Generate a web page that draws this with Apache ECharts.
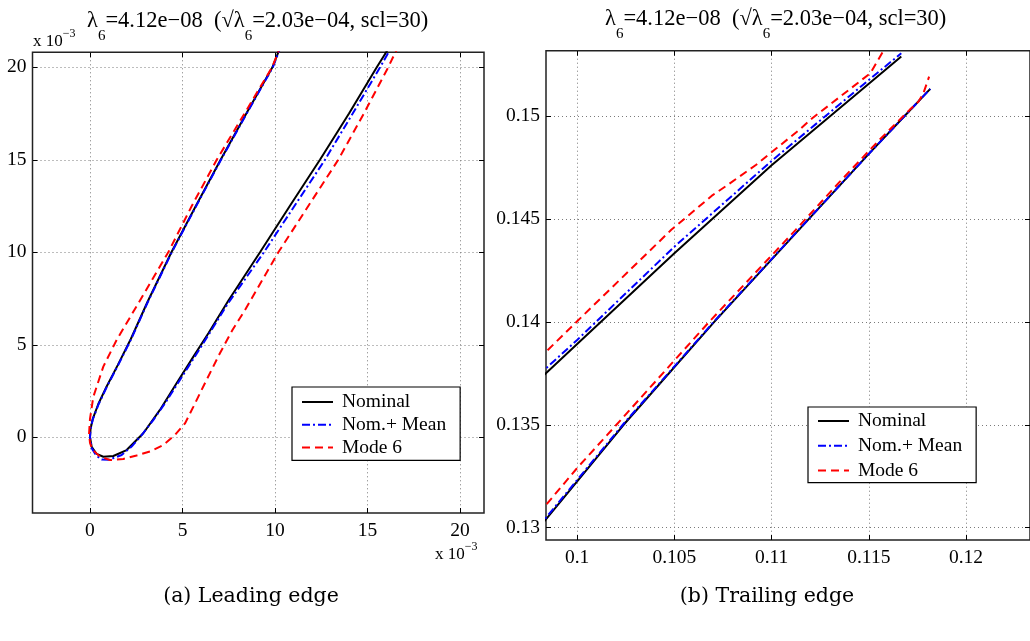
<!DOCTYPE html>
<html>
<head>
<meta charset="utf-8">
<script src="https://cdn.jsdelivr.net/npm/echarts@6/dist/echarts.min.js"></script>
<style>html,body{margin:0;padding:0;background:#fff;}#c{width:1030px;height:641px;}</style>
</head>
<body>
<div id="c"></div>
<script>
// ---------- data (leading edge, units of 1e-3) ----------
const seriesNames = ['Nominal', 'Nom.+ Mean', 'Mode 6'];
const leXTicks = [0, 5, 10, 15, 20];
const leYTicks = [0, 5, 10, 15, 20];
const teXTicks = [0.1, 0.105, 0.11, 0.115, 0.12];
const teYTicks = [0.13, 0.135, 0.14, 0.145, 0.15];

const leNominal = [[10.33,21.2],[9.86,20],[8.45,17.5],[7.06,15],[5.72,12.5],[4.4,10],[3.1,7.3],[2.2,5.3],[1.5,3.9],[0.9,2.75],[0.45,1.8],[0.15,1.0],[0.03,0.45],[0,0],[0.09,-0.51],[0.36,-0.9],[0.72,-1.05],[1.26,-1.01],[1.98,-0.69],[2.88,0.22],[3.78,1.48],[4.68,2.92],[5.59,4.36],[6.4,5.62],[7.5,7.42],[9.19,10],[10.8,12.5],[12.43,15],[14.0,17.5],[15.5,20],[16.0,20.8],[16.25,21.2]];
const leMean = [[10.35,21.2],[9.88,20],[8.47,17.5],[7.08,15],[5.74,12.5],[4.42,10],[3.12,7.3],[2.22,5.3],[1.52,3.9],[0.92,2.75],[0.47,1.8],[0.16,1.0],[0.03,0.45],[0,0],[0.1,-0.6],[0.35,-1.0],[0.63,-1.2],[1.0,-1.22],[1.71,-0.96],[2.25,-0.5],[2.79,0.12],[3.42,0.93],[4.05,1.83],[4.68,2.82],[5.32,3.82],[5.95,4.81],[6.6,5.85],[7.4,7.15],[9.4,10],[11.05,12.5],[12.7,15],[14.2,17.5],[15.68,20],[16.13,20.8],[16.38,21.2]];
const leMode = [[10.33,21.2],[9.84,20],[8.35,17.5],[6.85,15],[5.5,12.5],[4.23,10],[2.61,7.24],[1.44,5.26],[0.72,3.82],[0.18,2.19],[0.0,1.0],[-0.05,0.2],[0.0,-0.3],[0.12,-0.65],[0.54,-1.05],[1.08,-1.23],[1.8,-1.17],[2.52,-0.98],[3.3,-0.75],[3.96,-0.42],[4.59,0.12],[5.14,0.76],[5.59,1.66],[6.3,3.1],[7.0,4.5],[7.7,5.8],[8.38,6.88],[10.18,10],[11.8,12.5],[13.42,15],[14.8,17.5],[16.12,20],[16.5,20.8],[16.75,21.2]];

// ---------- data (trailing edge) ----------
const teNominalUpper = [[0.0980,0.13715],[0.1,0.13892],[0.105,0.14333],[0.11,0.14761],[0.115,0.15157],[0.11667,0.15289]];
const teNominalLower = [[0.0980,0.12995],[0.1,0.13225],[0.10239,0.135],[0.10705,0.14],[0.1114,0.14447],[0.115,0.14816],[0.11684,0.15],[0.11816,0.15132]];
const teMeanUpper = [[0.0980,0.1374],[0.1,0.13912],[0.105,0.14365],[0.11,0.14782],[0.115,0.15175],[0.11667,0.15305]];
const teMeanLower = [[0.0980,0.13003],[0.1,0.13232],[0.10239,0.13505],[0.10705,0.14003],[0.1114,0.14448],[0.115,0.14816],[0.11684,0.15],[0.11816,0.15132]];
const teModeUpper = [[0.0980,0.13818],[0.1,0.14003],[0.10484,0.14447],[0.10697,0.14616],[0.10774,0.14665],[0.10919,0.14762],[0.11141,0.14932],[0.11209,0.14989],[0.11508,0.15208],[0.11576,0.15318],[0.1159,0.1535]];
const teModeLower = [[0.0980,0.13066],[0.1,0.1329],[0.10202,0.135],[0.10679,0.14],[0.11124,0.14447],[0.1135,0.1468],[0.1155,0.1488],[0.1171,0.1503],[0.11756,0.1507],[0.11781,0.15111],[0.1181,0.15191]];

// ---------- styling ----------
const FONT = 'Liberation Serif';
const STY = {
  'Nominal':    {color:'#000000', width:2, type:'solid'},
  'Nom.+ Mean': {color:'#0000ff', width:2, type:[8,3,2,3]},
  'Mode 6':     {color:'#ff0000', width:2, type:[8,5]}
};

function axis(gridIndex, position, min, max, ticks, labels, isX) {
  return {
    type:'value', gridIndex, position, min, max, scale:true,
    axisLine:{show:false, onZero:false},
    axisTick:{show:true, inside:true, length:5, customValues:ticks, lineStyle:{color:'#000', width:1}},
    axisLabel:{show:labels, customValues:ticks, color:'#000', fontFamily:FONT, fontSize:19.5, margin: isX ? 8 : 6},
    splitLine:{show:labels, lineStyle:{color:'#7a7a7a', width:1, type:[1,3]}}
  };
}

function line(name, data, xi, yi) {
  const s = STY[name];
  return {
    name, type:'line', data, xAxisIndex:xi, yAxisIndex:yi, symbol:'none', symbolSize:0, clip:true,
    lineStyle:{color:s.color, width:s.width, type:s.type}, itemStyle:{color:s.color},
    emphasis:{disabled:true}
  };
}

const legendBase = {
  orient:'vertical', data:seriesNames, itemWidth:31, itemHeight:12,
  borderColor:'#000', borderWidth:1.2, backgroundColor:'#fff', borderRadius:0,
  itemStyle:{opacity:0},
  textStyle:{color:'#000', fontFamily:FONT, fontSize:19.5, lineHeight:19, padding:[0,0,0,4]}
};

const subTitle = {
  a:{fontSize:22.5, fontFamily:FONT, fill:'#000'},
  s:{fontSize:15, fontFamily:FONT, fill:'#000', padding:[30,0,0,0]}
};
const titleText = '{a|λ}{s|6}{a|=4.12e−08  (√λ}{s|6}{a|=2.03e−04, scl=30)}';
const supRich = {
  a:{fontSize:17, fontFamily:FONT, fill:'#000'},
  p:{fontSize:12, fontFamily:FONT, fill:'#000', padding:[0,0,16,0]}
};

const option = {
  animation:false,
  backgroundColor:'#fff',
  grid:[
    {left:32.5, top:52.3, width:451.5, height:460.7, show:true, borderColor:'#222', borderWidth:1.5, backgroundColor:'transparent'},
    {left:546, top:50.7, width:486, height:489.3, show:true, borderColor:'#222', borderWidth:1.5, backgroundColor:'transparent'}
  ],
  xAxis:[
    axis(0,'bottom',-3.108,21.297,leXTicks,true,true),
    axis(0,'top',-3.108,21.297,leXTicks,false,true),
    axis(1,'bottom',0.098397,0.12329,teXTicks,true,true),
    axis(1,'top',0.098397,0.12329,teXTicks,false,true)
  ],
  yAxis:[
    axis(0,'left',-4.092,20.81,leYTicks,true,false),
    axis(0,'right',-4.092,20.81,leYTicks,false,false),
    axis(1,'left',0.129402,0.153173,teYTicks,true,false),
    axis(1,'right',0.129402,0.153173,teYTicks,false,false)
  ],
  legend:[
    Object.assign({}, legendBase, {left:292, top:387, itemGap:2.7, padding:[5,14,3,9]}),
    Object.assign({}, legendBase, {left:808, top:407, itemGap:4.8, padding:[4,14,2,9]})
  ],
  series:[
    line('Nominal', leNominal, 0, 0),
    line('Nom.+ Mean', leMean, 0, 0),
    line('Mode 6', leMode, 0, 0),
    line('Nominal', teNominalUpper, 2, 2),
    line('Nominal', teNominalLower, 2, 2),
    line('Nom.+ Mean', teMeanUpper, 2, 2),
    line('Nom.+ Mean', teMeanLower, 2, 2),
    line('Mode 6', teModeUpper, 2, 2),
    line('Mode 6', teModeLower, 2, 2)
  ],
  graphic:[
    {type:'text', left:87, top:10, style:{text:titleText, rich:subTitle}},
    {type:'text', left:605, top:8, style:{text:titleText, rich:subTitle}},
    {type:'text', left:33, top:28, style:{text:'{a|x 10}{p|−3}', rich:supRich}},
    {type:'text', left:435, top:541, style:{text:'{a|x 10}{p|−3}', rich:supRich}},
    {type:'text', x:251, y:597, style:{text:'(a) Leading edge', fontFamily:'DejaVu Serif', fontSize:20.5, fill:'#000', align:'center', verticalAlign:'middle'}},
    {type:'text', x:767, y:597, style:{text:'(b) Trailing edge', fontFamily:'DejaVu Serif', fontSize:20.5, fill:'#000', align:'center', verticalAlign:'middle'}}
  ]
};

const chart = echarts.init(document.getElementById('c'), null, {renderer:'canvas'});
chart.setOption(option);
</script>
</body>
</html>
